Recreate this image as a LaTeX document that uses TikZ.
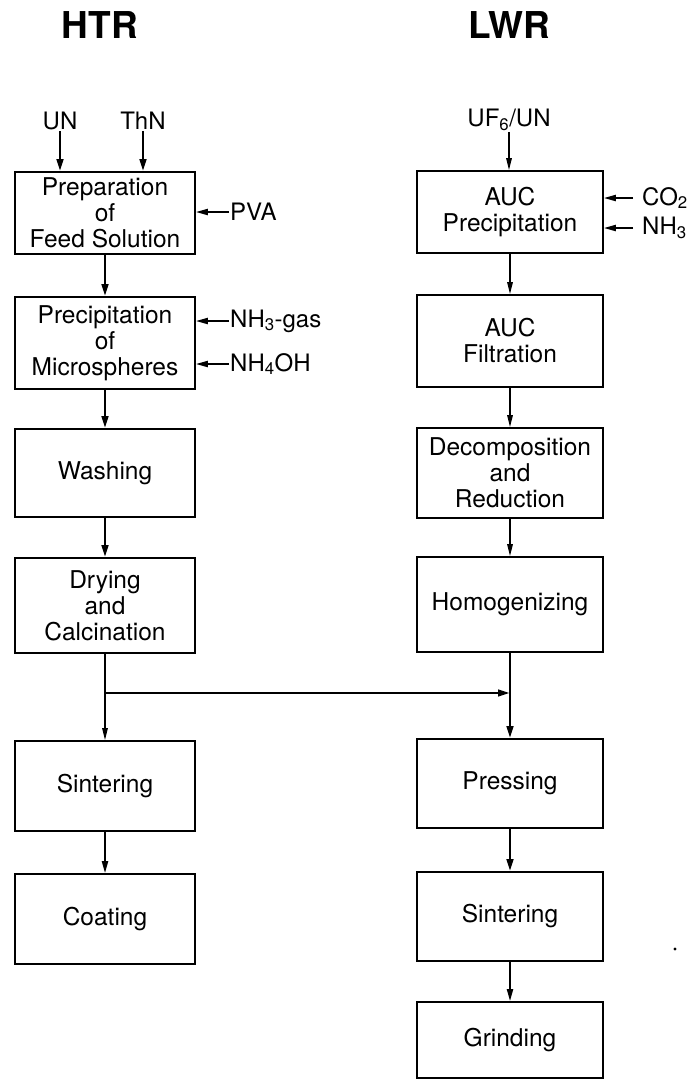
\documentclass[tikz,border=0pt]{standalone}
\usepackage{fontspec}
\setmainfont{TeX Gyre Heros}
\usetikzlibrary{arrows.meta}
\begin{document}
\begin{tikzpicture}[x=1pt,y=-1pt,
  box/.style={draw, line width=1.6pt, align=center, inner sep=0pt, font=\fontsize{24.5}{26}\selectfont},
  lbox/.style={box, minimum width=180pt},
  rbox/.style={box, minimum width=186pt},
  lab/.style={font=\fontsize{24}{26}\selectfont, inner sep=1pt},
  ttl/.style={font=\fontsize{37}{40}\selectfont\bfseries, inner sep=0pt},
  arrA/.style={line width=1.3pt, -{Triangle[length=12pt,width=5.5pt]}},
  arrM/.style={line width=1.9pt, -{Triangle[length=12pt,width=6pt]}},
  arrB/.style={line width=2.6pt, -{Triangle[length=12pt,width=6.5pt]}},
  lnA/.style={line width=1.3pt},
  lnB/.style={line width=2.6pt},
]
\useasboundingbox (0,0) rectangle (688,1080);

% titles
\node[ttl] (htr) at (100,25) {HTR};
\node[ttl] (lwr) at (509,25) {LWR};

% ---------------- HTR column ----------------
\node[lab] (un)  at (60,121) {UN};
\node[lab] (thn) at (143,121) {ThN};

\node[lbox, minimum height=82pt] (prep) at (105,213) {Preparation\\of\\Feed Solution};
\node[lbox, minimum height=92pt] (prec) at (105,343) {Precipitation\\of\\Microspheres};
\node[lbox, minimum height=88pt] (wash) at (105,473) {Washing};
\node[lbox, minimum height=95pt] (dry)  at (105,605.5) {Drying\\and\\Calcination};
\node[lbox, minimum height=90pt] (sintL) at (105,786) {Sintering};
\node[lbox, minimum height=90pt] (coat) at (105,919) {Coating};

\node[lab, anchor=west] (pva)  at (229,212) {PVA};
\node[lab, anchor=west] (nhg)  at (229,321) {NH\textsubscript{3}-gas};
\node[lab, anchor=west] (nhoh) at (229,364) {NH\textsubscript{4}OH};

\draw[arrB] (un.south)  -- (un.south |- prep.north);
\draw[arrB] (thn.south) -- (thn.south |- prep.north);
\draw[arrM] (pva.west)  -- (pva.west -| prep.east);
\draw[arrM] (nhg.west)  -- (nhg.west -| prec.east);
\draw[arrM] (nhoh.west) -- (nhoh.west -| prec.east);
\draw[arrB] (prep) -- (prec);
\draw[arrB] (prec) -- (wash);
\draw[arrB] (wash) -- (dry);

% ---------------- LWR column ----------------
\node[lab] (uf) at (509,120) {UF\textsubscript{6}/UN};

\node[rbox, minimum height=82pt] (aucp) at (510,212) {AUC\\Precipitation};
\node[rbox, minimum height=92pt] (aucf) at (510,341) {AUC\\Filtration};
\node[rbox, minimum height=90pt] (dec)  at (510,473) {Decomposition\\and\\Reduction};
\node[rbox, minimum height=95pt] (hom)  at (510,604.5) {Homogenizing};
\node[rbox, minimum height=89pt] (pres) at (510,783.5) {Pressing};
\node[rbox, minimum height=89pt] (sintR) at (510,916.5) {Sintering};
\node[rbox, minimum height=76pt] (grind) at (510,1040) {Grinding};

\node[lab, anchor=west] (co2) at (641,198) {CO\textsubscript{2}};
\node[lab, anchor=west] (nh3) at (641,228) {NH\textsubscript{3}};

\draw[arrA] (uf.south) -- (uf.south |- aucp.north);
\draw[arrM] ([xshift=-8pt]co2.west) -- (co2.west -| aucp.east);
\draw[arrM] ([xshift=-8pt]nh3.west) -- (nh3.west -| aucp.east);
\draw[arrA] (aucp) -- (aucf);
\draw[arrA] (aucf) -- (dec);
\draw[arrA] (dec) -- (hom);

% ---------------- junction ----------------
\coordinate (j1) at (dry.south |- 0,693);
\coordinate (j2) at (hom.south |- 0,693);
\draw[lnB] (dry.south) -- (j1);
\draw[arrB] (j1) -- (j2);
\draw[arrA] (j1) -- (sintL.north);
\draw[arrM] (sintL) -- (coat);
\draw[lnA] (hom.south) -- (j2);
\draw[arrB] (j2) -- (pres.north);
\draw[arrB] (pres) -- (sintR);
\draw[arrM] (sintR) -- (grind);

% small speck
\fill (675,949) circle (1.6pt);
\end{tikzpicture}
\end{document}
